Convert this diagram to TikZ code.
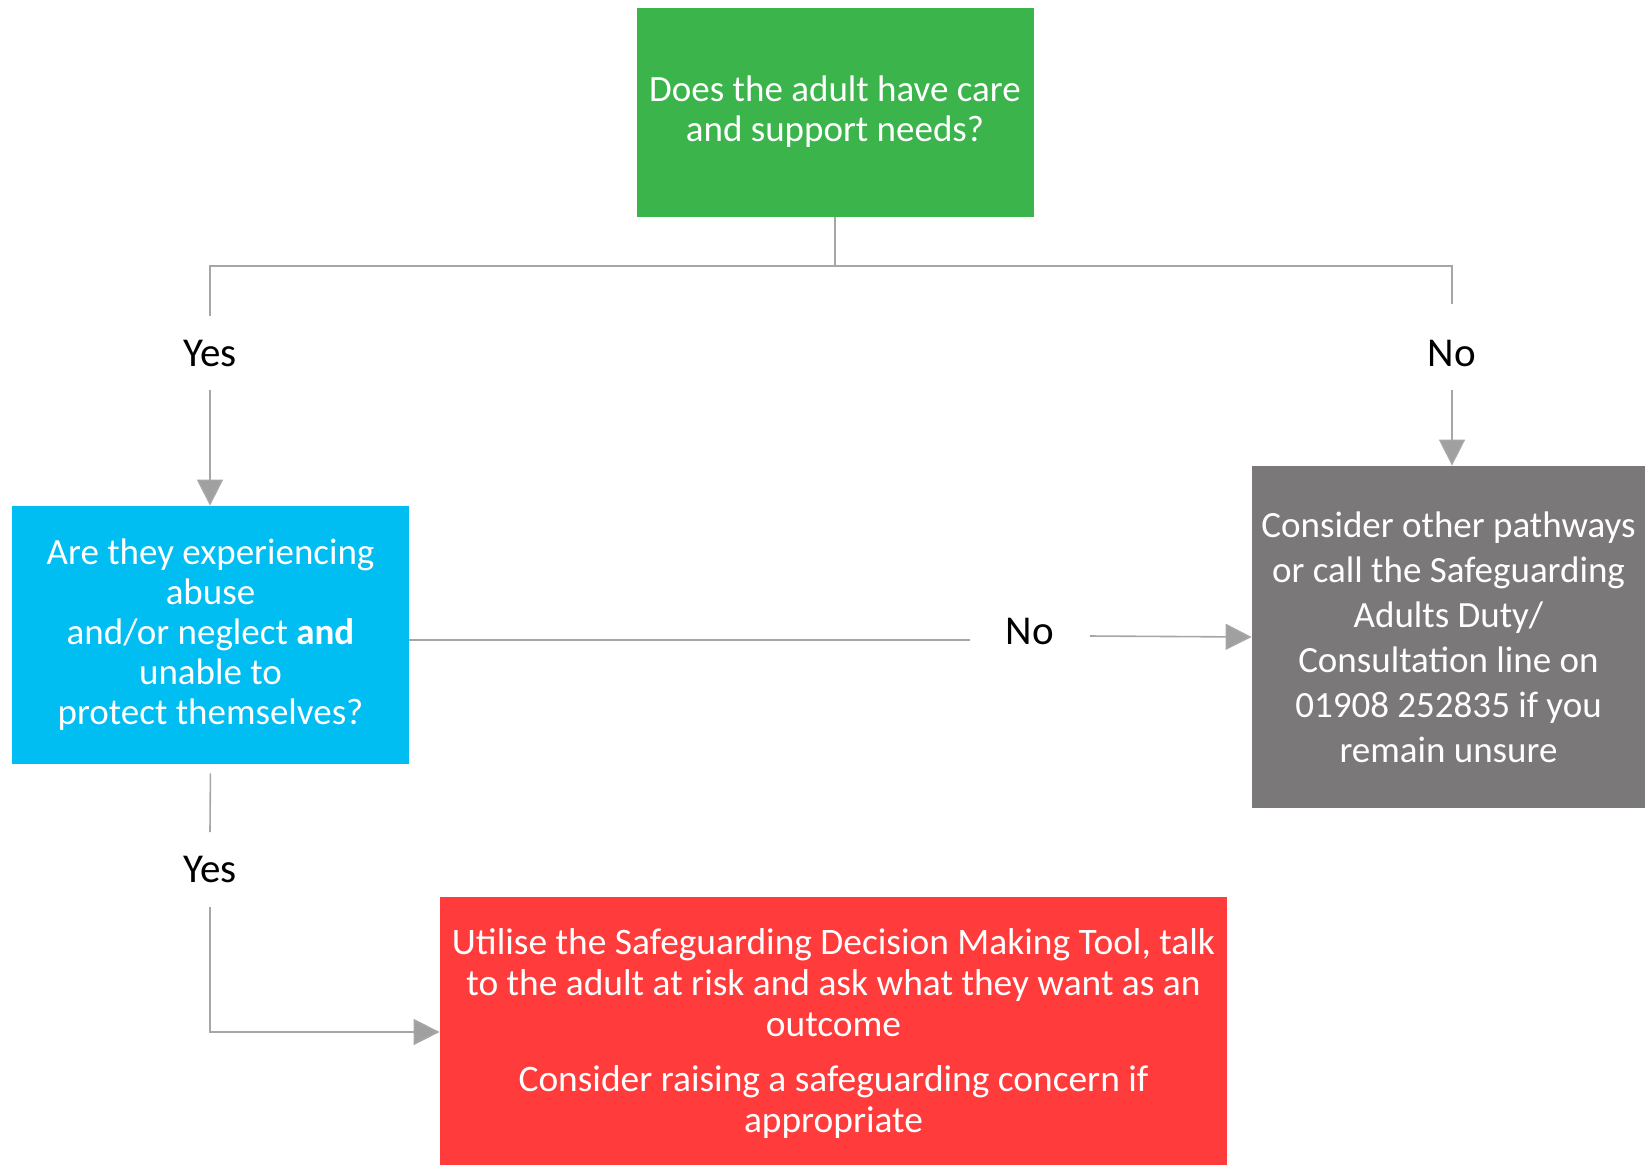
\documentclass[tikz,border=0pt]{standalone}
\usepackage{fontspec}
\setmainfont{Carlito}
\usepackage{tikz}
\usepackage{xcolor}
\usetikzlibrary{arrows.meta,positioning,calc}
\definecolor{Leaf}{HTML}{3AB44B}
\definecolor{Sky}{HTML}{00BEF2}
\definecolor{Slate}{HTML}{7A7879}
\definecolor{Alarm}{HTML}{FF3B3B}
\definecolor{Wire}{HTML}{A6A6A6}
\definecolor{Tip}{HTML}{A0A0A0}

\begin{document}
\begin{tikzpicture}[x=0.5pt,y=-0.5pt,
  every node/.style={align=center,inner sep=0pt},
  box/.style={text=white,font=\fontsize{18.5}{20}\selectfont},
  answer/.style={font=\fontsize{20.5}{22}\selectfont,minimum height=37pt},
  wire/.style={draw=Wire,line width=0.8pt},
  arrow/.style={wire,-{Triangle[length=13pt,width=13pt,fill=Tip]}}]
  \useasboundingbox (0,0) rectangle (1645,1164);
  \node[box,fill=Leaf,minimum width=198.5pt,minimum height=104.5pt] (q1) at (835,112) {Does the adult have care\\and support needs?};
  \node[box,fill=Sky,minimum width=198.5pt,minimum height=129pt] (q2) at (210.5,635) {Are they experiencing\\abuse\\and/or neglect \textbf{and}\\unable to\\protect themselves?};
  \node[box,fill=Slate,minimum width=196.5pt,minimum height=171pt,font=\fontsize{18.5}{22.5}\selectfont] (q3) at (1448.5,637) {Consider other pathways\\or call the Safeguarding\\Adults Duty/\\Consultation line on\\01908 252835 if you\\remain unsure};
  \node[box,fill=Alarm,minimum width=393.5pt,minimum height=137pt,font=\fontsize{18.7}{20.5}\selectfont] (q4) at (833.5,1034) {Utilise the Safeguarding Decision Making Tool, talk\\to the adult at risk and ask what they want as an\\outcome\\[7pt]Consider raising a safeguarding concern if\\appropriate};
  \node[answer] (yes1) at (210,353) {Yes};
  \node[answer] (no1) at (1452,353) {No};
  \node[answer,minimum width=59.5pt] (no2) at (1030,631) {No};
  \node[answer] (yes2) at (210,869.5) {Yes};
  \coordinate (split) at (835,266);
  \draw[wire] (q1.south) -- (split);
  \draw[wire] (split) -| (yes1.north);
  \draw[wire] (split) -| ([yshift=6pt]no1.north);
  \draw[arrow] (yes1.south) -- (yes1.south |- q2.north);
  \draw[arrow] (no1.south) -- (no1.south |- q3.north);
  \draw[wire] ([yshift=-2.5pt]q2.east) -- ([yshift=-4.5pt]no2.west);
  \draw[arrow] ([yshift=-2.5pt]no2.east) -- (q3.west);
  \draw[wire,shorten <=4.5pt] (q2.south) -- (yes2.north);
  \draw[arrow] (yes2.south) |- ([yshift=1pt]q4.west);
\end{tikzpicture}
\end{document}
